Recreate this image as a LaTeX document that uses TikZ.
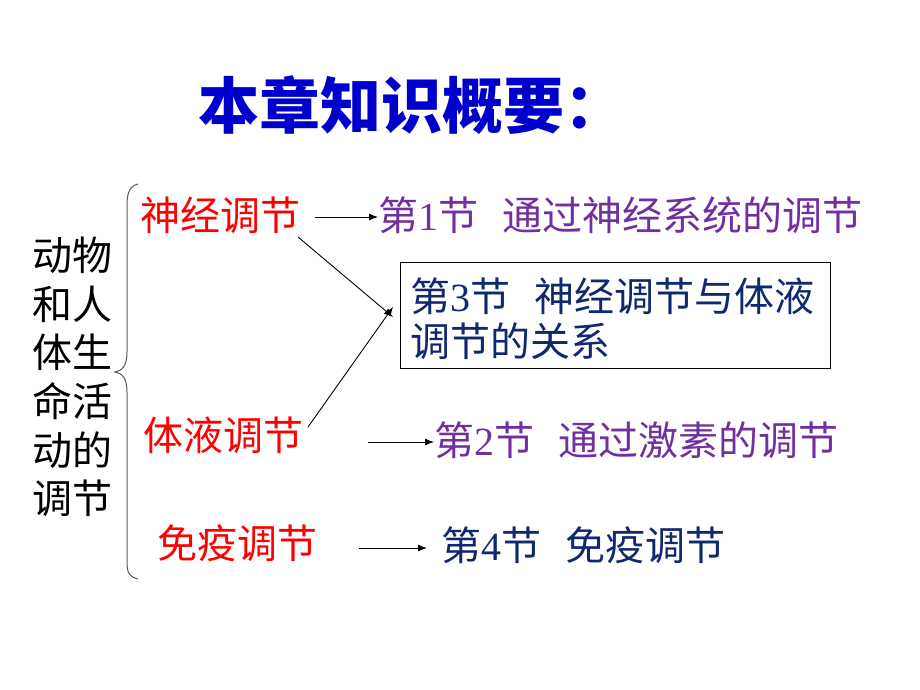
\documentclass[tikz,border=0pt]{standalone}
\usepackage{fontspec}
\setmainfont{Liberation Serif}
\newfontfamily\cjk{Noto Sans CJK SC}
\usetikzlibrary{arrows.meta}
\definecolor{titleblue}{RGB}{0,0,204}
\definecolor{redtxt}{RGB}{255,0,0}
\definecolor{purp}{RGB}{112,48,160}
\definecolor{navyt}{RGB}{16,40,110}
\definecolor{bracegray}{RGB}{90,90,90}
\tikzset{
  txt/.style={inner sep=0pt, outer sep=0pt, anchor=west, font=\fontsize{40pt}{44pt}\selectfont\cjk},
  cat/.style={txt, text=redtxt},
  sec/.style={txt},
  arr/.style={-{Latex[length=9pt,width=7pt]}, line width=0.9pt, black},
}
\newcommand{\secsp}{\hspace{0.6em}}
\begin{document}
\begin{tikzpicture}[x=1pt,y=-1pt]
\useasboundingbox (0,0) rectangle (920,690);
% title
\node[txt, font=\fontsize{61pt}{64pt}\selectfont\cjk\bfseries, text=titleblue] (title) at (198,105) {本章知识概要：};
% left column
\node[txt, align=left, font=\fontsize{40pt}{48.6pt}\selectfont\cjk] (main) at (32,377) {动物\\和人\\体生\\命活\\动的\\调节};
% brace
\draw[bracegray, line width=1pt] (138,184) .. controls (130,186) and (127,192) .. (127,205)
  -- (127,352) .. controls (127,366) and (122,371) .. (115,372)
  .. controls (122,373) and (127,378) .. (127,392)
  -- (127,562) .. controls (127,574) and (130,577) .. (138,579);
% categories
\node[cat] (nerve) at (140,215) {神经调节};
\node[cat] (fluid) at (143,435) {体液调节};
\node[cat] (immune) at (157,543) {免疫调节};
% sections
\node[sec, text=purp] (s1) at (378,215) {第{\rmfamily 1}节\secsp 通过神经系统的调节};
\node[sec, text=purp] (s2) at (434,440) {第{\rmfamily 2}节\secsp 通过激素的调节};
\node[sec, text=navyt] (s4) at (441,545) {第{\rmfamily 4}节\secsp 免疫调节};
\node[draw=black, line width=0.9pt, inner sep=0pt, minimum width=430pt, minimum height=106pt, anchor=north west] (box) at (400,262) {};
\node[sec, text=navyt, align=left, font=\fontsize{40pt}{45pt}\selectfont\cjk] (s3) at (410,319) {第{\rmfamily 3}节\secsp 神经调节与体液\\调节的关系};
% arrows
\coordinate (tip) at (393,312);
\draw[arr] ([xshift=-63pt,yshift=-2pt]s1.west) -- ([yshift=-2pt]s1.west);
\draw[arr] ([xshift=-2pt,yshift=-22pt]nerve.east) -- ([yshift=-5pt]tip);
\draw[arr] ([xshift=5pt,yshift=8pt]fluid.east) -- ([yshift=5pt]tip);
\draw[arr] ([xshift=-66pt,yshift=-2pt]s2.west) -- ([yshift=-2pt]s2.west);
\draw[arr] ([xshift=-82pt,yshift=-3pt]s4.west) -- ([xshift=-14pt,yshift=-3pt]s4.west);
\end{tikzpicture}
\end{document}
